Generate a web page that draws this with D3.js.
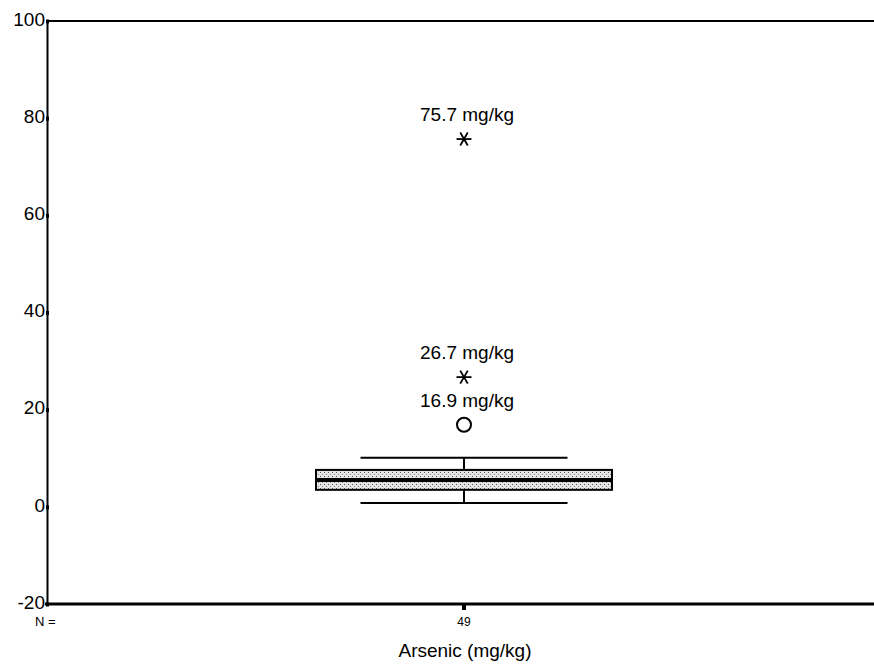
<!DOCTYPE html>
<html>

<head>
    <meta charset="utf-8">
    <style>
        body { margin: 0; background: #fff; }
        text { font-family: Arial, "Liberation Sans", sans-serif; fill: #000; }
    </style>
</head>

<body>
    <svg width="874" height="665"></svg>
    <script src="https://d3js.org/d3.v7.min.js"></script>
    <script>
        // data
        var categories = ["Arsenic (mg/kg)"];
        var counts = [49];
        var whiskerLow = [0.8];
        var q1 = [3.5];
        var median = [5.5];
        var q3 = [7.6];
        var whiskerHigh = [10.1];
        var outlierValues = [75.7, 26.7, 16.9];
        var outlierKinds = ["extreme", "extreme", "outlier"];
        var outlierLabels = ["75.7 mg/kg", "26.7 mg/kg", "16.9 mg/kg"];
        var yTicks = [100, 80, 60, 40, 20, 0, -20];

        var svg = d3.select("svg");

        var x = d3.scalePoint()
            .domain(categories)
            .range([47, 881])
            .padding(0.5);
        var y = d3.scaleLinear()
            .domain([-20, 100])
            .range([604, 21]);

        var boxW = 296, capW = 207;

        // stipple pattern for the box
        var pat = svg.append("defs").append("pattern")
            .attr("id", "stip")
            .attr("width", 4).attr("height", 4)
            .attr("patternUnits", "userSpaceOnUse");
        pat.append("rect").attr("width", 4).attr("height", 4).attr("fill", "#e4e4e4");
        pat.append("rect").attr("x", 0).attr("y", 0).attr("width", 1).attr("height", 1).attr("fill", "#555");
        pat.append("rect").attr("x", 2).attr("y", 2).attr("width", 1).attr("height", 1).attr("fill", "#888");

        // frame: top line and bottom axis line
        svg.append("line")
            .attr("x1", 47).attr("x2", 874)
            .attr("y1", y(100)).attr("y2", y(100))
            .attr("stroke", "#000").attr("stroke-width", 2);
        svg.append("line")
            .attr("x1", 45).attr("x2", 874)
            .attr("y1", y(-20)).attr("y2", y(-20))
            .attr("stroke", "#000").attr("stroke-width", 3);

        var yAxis = svg.append("g")
            .attr("transform", "translate(47,0)")
            .call(d3.axisLeft(y).tickValues(yTicks).tickSize(0).tickPadding(2).tickFormat(function (d) { return String(d); }));
        yAxis.select(".domain").attr("stroke", "#000").attr("stroke-width", 2);
        yAxis.selectAll(".tick text")
            .attr("dy", "0.22em")
            .style("font-size", "19px")
            .style("font-family", "Arial, 'Liberation Sans', sans-serif");
        yAxis.selectAll(".tick").append("rect")
            .attr("x", -1).attr("y", -2).attr("width", 3).attr("height", 4)
            .attr("fill", "#000");

        // box plot
        var g = svg.append("g");
        categories.forEach(function (c, i) {
            var cx = x(c);
            // whisker stems
            g.append("line")
                .attr("x1", cx).attr("x2", cx)
                .attr("y1", y(whiskerHigh[i])).attr("y2", y(q3[i]))
                .attr("stroke", "#000").attr("stroke-width", 2);
            g.append("line")
                .attr("x1", cx).attr("x2", cx)
                .attr("y1", y(q1[i])).attr("y2", y(whiskerLow[i]))
                .attr("stroke", "#000").attr("stroke-width", 2);
            // caps
            [whiskerHigh[i], whiskerLow[i]].forEach(function (v) {
                g.append("line")
                    .attr("x1", cx - capW / 2).attr("x2", cx + capW / 2)
                    .attr("y1", y(v)).attr("y2", y(v))
                    .attr("stroke", "#000").attr("stroke-width", 2);
            });
            // box
            g.append("rect")
                .attr("x", cx - boxW / 2).attr("width", boxW)
                .attr("y", y(q3[i])).attr("height", y(q1[i]) - y(q3[i]))
                .attr("fill", "url(#stip)")
                .attr("stroke", "#000").attr("stroke-width", 2);
            // median
            g.append("line")
                .attr("x1", cx - boxW / 2).attr("x2", cx + boxW / 2)
                .attr("y1", y(median[i])).attr("y2", y(median[i]))
                .attr("stroke", "#000").attr("stroke-width", 4);

            // outliers
            outlierValues.forEach(function (v, k) {
                var py = y(v);
                if (outlierKinds[k] === "extreme") {
                    var r = 7.5;
                    [0, 60, 120].forEach(function (a) {
                        var rad = a * Math.PI / 180;
                        g.append("line")
                            .attr("x1", cx - r * Math.cos(rad)).attr("x2", cx + r * Math.cos(rad))
                            .attr("y1", py - r * Math.sin(rad)).attr("y2", py + r * Math.sin(rad))
                            .attr("stroke", "#000").attr("stroke-width", 1.8);
                    });
                } else {
                    g.append("circle")
                        .attr("cx", cx).attr("cy", py).attr("r", 7)
                        .attr("fill", "none")
                        .attr("stroke", "#000").attr("stroke-width", 2);
                }
                g.append("text")
                    .attr("x", cx + 3).attr("y", py - 18)
                    .attr("text-anchor", "middle")
                    .style("font-size", "19px")
                    .text(outlierLabels[k]);
            });

            // bottom tick + N
            g.append("rect")
                .attr("x", cx - 2).attr("y", y(-20)).attr("width", 4).attr("height", 6)
                .attr("fill", "#000");
            g.append("text")
                .attr("x", cx).attr("y", 626)
                .attr("text-anchor", "middle")
                .style("font-size", "12px")
                .text(counts[i]);
            g.append("text")
                .attr("x", cx + 1).attr("y", 657)
                .attr("text-anchor", "middle")
                .style("font-size", "19px")
                .text(c);
        });

        svg.append("text")
            .attr("x", 35).attr("y", 626)
            .style("font-size", "13px")
            .text("N =");
    </script>
</body>

</html>
